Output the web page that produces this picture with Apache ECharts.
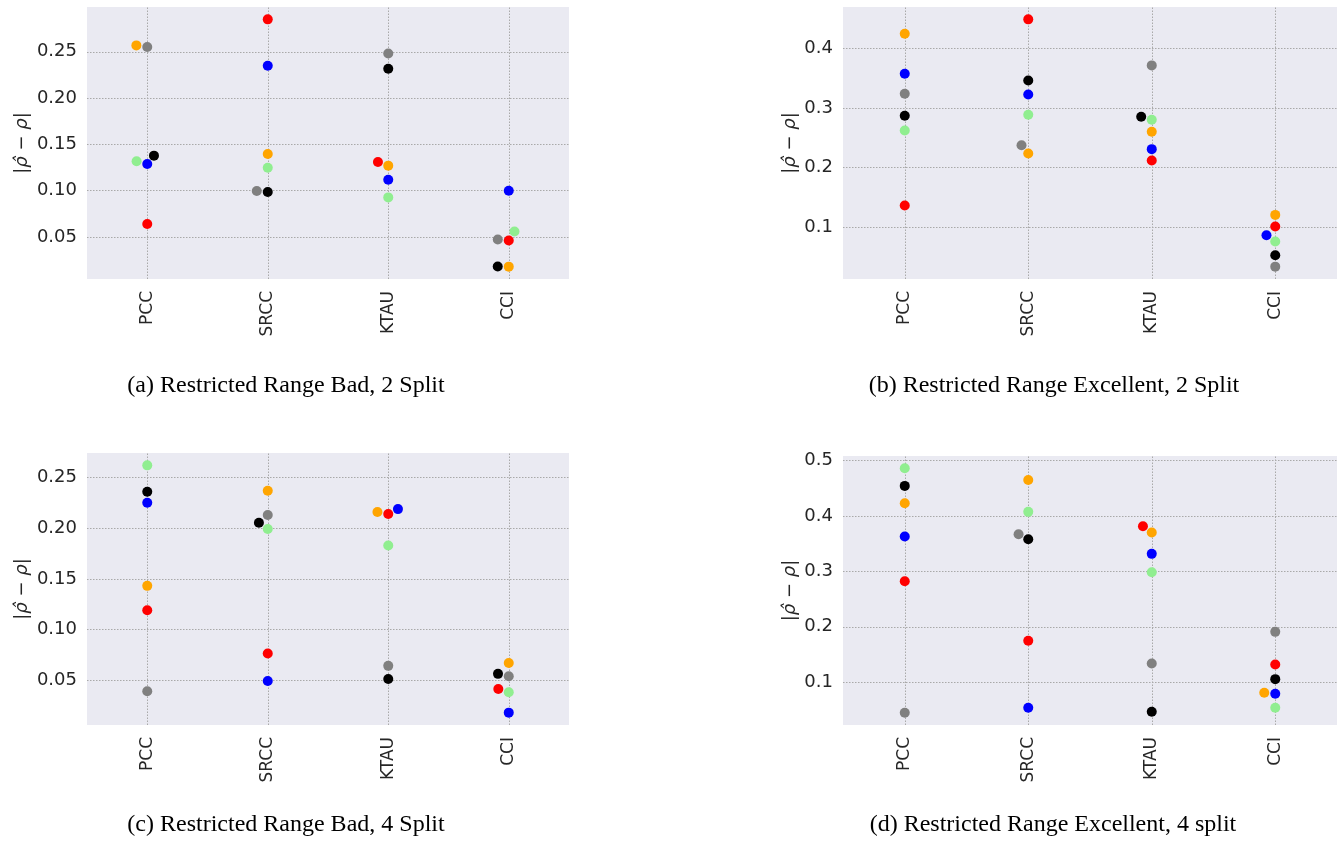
<!DOCTYPE html>
<html><head><meta charset="utf-8">
<script src="https://cdn.jsdelivr.net/npm/echarts@6/dist/echarts.min.js"></script>
<style>html,body{margin:0;padding:0;background:#fff}#c{width:1338px;height:846px}</style>
</head><body><div id="c"></div>
<script>
// ---- data ----
const categories = ['PCC', 'SRCC', 'KTAU', 'CCI'];
const hueNames = ['orange', 'gray', 'lightgreen', 'blue', 'black', 'red'];
const hueColors = ['#FFA500', '#808080', '#90EE90', '#0000FF', '#000000', '#FF0000'];

// (a) Restricted Range Bad, 2 Split  — values per category [PCC, SRCC, KTAU, CCI]
const a_orange = [0.2569, 0.1396, 0.1270, 0.0179];
const a_gray   = [0.2551, 0.0996, 0.2482, 0.0473];
const a_green  = [0.1317, 0.1248, 0.0927, 0.0559];
const a_blue   = [0.1288, 0.2348, 0.1118, 0.0999];
const a_black  = [0.1378, 0.0985, 0.2316, 0.0181];
const a_red    = [0.0639, 0.2850, 0.1310, 0.0462];
// (b) Restricted Range Excellent, 2 Split
const b_orange = [0.4253, 0.2236, 0.2601, 0.1202];
const b_gray   = [0.3242, 0.2376, 0.3719, 0.0331];
const b_green  = [0.2624, 0.2888, 0.2803, 0.0753];
const b_blue   = [0.3579, 0.3230, 0.2309, 0.0860];
const b_black  = [0.2871, 0.3466, 0.2854, 0.0522];
const b_red    = [0.1360, 0.4494, 0.2118, 0.1006];
// (c) Restricted Range Bad, 4 Split
const c_orange = [0.1432, 0.2371, 0.2161, 0.0671];
const c_gray   = [0.0391, 0.2131, 0.0642, 0.0540];
const c_green  = [0.2622, 0.1993, 0.1831, 0.0381];
const c_blue   = [0.2253, 0.0493, 0.2190, 0.0180];
const c_black  = [0.2362, 0.2055, 0.0513, 0.0563];
const c_red    = [0.1192, 0.0764, 0.2141, 0.0414];
// (d) Restricted Range Excellent, 4 split
const d_orange = [0.4230, 0.4651, 0.3701, 0.0807];
const d_gray   = [0.0447, 0.3671, 0.1337, 0.1908];
const d_green  = [0.4862, 0.4074, 0.2985, 0.0537];
const d_blue   = [0.3629, 0.0537, 0.3316, 0.0789];
const d_black  = [0.4543, 0.3580, 0.0465, 0.1054];
const d_red    = [0.2823, 0.1746, 0.3815, 0.1319];

const ticks_a = [0.05, 0.10, 0.15, 0.20, 0.25];
const ticks_b = [0.1, 0.2, 0.3, 0.4];
const ticks_c = [0.05, 0.10, 0.15, 0.20, 0.25];
const ticks_d = [0.1, 0.2, 0.3, 0.4, 0.5];

const captions = [
  '(a) Restricted Range Bad, 2 Split',
  '(b) Restricted Range Excellent, 2 Split',
  '(c) Restricted Range Bad, 4 Split',
  '(d) Restricted Range Excellent, 4 split'
];

const panelValues = [
  [a_orange, a_gray, a_green, a_blue, a_black, a_red],
  [b_orange, b_gray, b_green, b_blue, b_black, b_red],
  [c_orange, c_gray, c_green, c_blue, c_black, c_red],
  [d_orange, d_gray, d_green, d_blue, d_black, d_red]
];
const panelTicks = [ticks_a, ticks_b, ticks_c, ticks_d];
const panelDecimals = [2, 1, 2, 1];

// ---- layout ----
const layout = [
  {left: 87,  top: 7,   width: 482, height: 272, nameGap: 56, capX: 286,  capY: 386},
  {left: 843, top: 7,   width: 494, height: 272, nameGap: 44, capX: 1054, capY: 386},
  {left: 87,  top: 453, width: 482, height: 272, nameGap: 56, capX: 286,  capY: 825},
  {left: 843, top: 456, width: 494, height: 269, nameGap: 44, capX: 1053, capY: 825}
];
const DOT = 10;       // drawn symbol size (px)
const SWARM_D = 10.5; // swarm collision diameter (px)

// seaborn-like beeswarm: returns x offsets in px
function beeswarm(ys, d) {
  const idx = ys.map((y, i) => i).sort((p, q) => (ys[p] - ys[q]) || (p - q));
  const placed = [];
  const out = new Array(ys.length).fill(0);
  for (const i of idx) {
    const y = ys[i];
    const nb = [];
    for (let k = placed.length - 1; k >= 0; k--) {
      if (y - placed[k].y < d) nb.push(placed[k]); else break;
    }
    nb.reverse();
    let cands = [0];
    let leftFirst = true;
    for (const n of nb) {
      const dy = y - n.y;
      const dx = Math.sqrt(Math.max(d * d - dy * dy, 0)) * 1.05;
      if (leftFirst) cands.push(n.x - dx, n.x + dx); else cands.push(n.x + dx, n.x - dx);
      leftFirst = !leftFirst;
    }
    cands = cands.map((x, j) => ({x, j})).sort((p, q) => (Math.abs(p.x) - Math.abs(q.x)) || (p.j - q.j));
    let chosen = cands[0].x;
    if (nb.length) {
      for (const c of cands) {
        if (nb.every(n => (n.x - c.x) ** 2 + (n.y - y) ** 2 >= d * d - 1e-9)) { chosen = c.x; break; }
      }
    }
    placed.push({x: chosen, y});
    out[i] = chosen;
  }
  return out;
}

const grid = [], xAxis = [], yAxis = [], series = [], graphic = [];
const textColor = '#262626';
const font = 'DejaVu Sans';

panelValues.forEach((vals, p) => {
  const L = layout[p];
  const all = vals.flat();
  const dmin = Math.min(...all), dmax = Math.max(...all);
  const span = dmax - dmin;
  const ymin = dmin - 0.05 * span, ymax = dmax + 0.05 * span;
  const pxY = L.height / (ymax - ymin);
  const pxX = L.width / categories.length;

  grid.push({left: L.left, top: L.top, width: L.width, height: L.height,
    show: true, backgroundColor: '#EAEAF2', borderWidth: 0});

  // visible category axis (labels)
  xAxis.push({type: 'category', gridIndex: p, data: categories, boundaryGap: true,
    axisLine: {show: false}, axisTick: {show: false}, splitLine: {show: false},
    axisLabel: {rotate: 90, margin: 12, fontSize: 17, color: textColor, fontFamily: font}});
  // hidden numeric axis for positions
  xAxis.push({type: 'value', gridIndex: p, min: -0.5, max: categories.length - 0.5, show: false});

  const dec = panelDecimals[p];
  yAxis.push({type: 'value', gridIndex: p, min: ymin, max: ymax,
    axisLine: {show: false}, axisTick: {show: false}, splitLine: {show: false},
    axisLabel: {customValues: panelTicks[p], margin: 10, fontSize: 18, color: textColor, fontFamily: font,
      formatter: v => v.toFixed(dec)},
    name: '|{i|ρ\u0302} \u2212 {i|ρ}|', nameLocation: 'middle', nameGap: L.nameGap,
    nameTextStyle: {fontSize: 18, color: textColor, fontFamily: font,
      rich: {i: {fontSize: 18, color: textColor, fontFamily: font, fontStyle: 'italic'}}}});

  // swarm offsets per category
  const offsets = categories.map((c, ci) => beeswarm(vals.map(v => v[ci] * pxY), SWARM_D));

  // grid lines through the library's axes
  series.push({type: 'scatter', xAxisIndex: 2 * p + 1, yAxisIndex: p, data: [], z: 1, silent: true,
    markLine: {silent: true, symbol: 'none', z: 1, animation: false, label: {show: false},
      lineStyle: {type: [1.5, 1.5], color: '#a9a9a9', width: 1},
      data: panelTicks[p].map(v => ({yAxis: v})).concat(categories.map((c, ci) => ({xAxis: ci})))}});

  vals.forEach((hv, h) => {
    series.push({type: 'scatter', name: hueNames[h], xAxisIndex: 2 * p + 1, yAxisIndex: p, z: 10,
      symbolSize: DOT, itemStyle: {color: hueColors[h], opacity: 1}, animation: false,
      data: categories.map((c, ci) => [ci + offsets[ci][h] / pxX, hv[ci]])});
  });

  graphic.push({type: 'text', x: L.capX, y: L.capY,
    style: {text: captions[p], font: '24px "Liberation Serif"', fill: '#000',
      textAlign: 'center', textVerticalAlign: 'middle', align: 'center', verticalAlign: 'middle'}});
});

const chart = echarts.init(document.getElementById('c'), null, {renderer: 'canvas'});
chart.setOption({animation: false, backgroundColor: '#fff', grid, xAxis, yAxis, series, graphic});
</script></body></html>
